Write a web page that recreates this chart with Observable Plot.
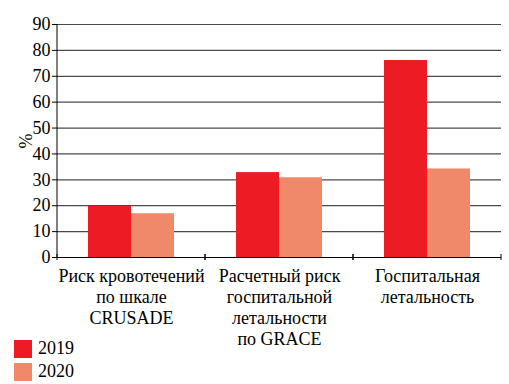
<!DOCTYPE html>
<html><head><meta charset="utf-8">
<script src="https://cdn.jsdelivr.net/npm/d3@7"></script>
<script src="https://cdn.jsdelivr.net/npm/@observablehq/plot@0.6"></script>
<style>
body{margin:0;background:#fff;font-family:"Liberation Serif",serif;}
#wrap{position:relative;width:509px;height:384px;overflow:hidden;}
.legend{position:absolute;left:14px;top:337px;font-size:18px;color:#000;}
.item{display:flex;align-items:center;height:23px;}
.sw{width:18px;height:18px;margin-right:6px;}
</style></head><body><div id="wrap"></div>
<script>
const categories = ["Риск кровотечений\nпо шкале\nCRUSADE", "Расчетный риск\nгоспитальной\nлетальности\nпо GRACE", "Госпитальная\nлетальность"];
const years = ["2019", "2020"];
const values2019 = [19.7, 32.8, 76.1];
const values2020 = [16.9, 30.8, 34.2];
const yTicks = [0, 10, 20, 30, 40, 50, 60, 70, 80, 90];
const colors = ["#ED1C24", "#F0886A"];

const rows = [];
categories.forEach((c, i) => {
  rows.push({category: c, year: years[0], value: values2019[i]});
  rows.push({category: c, year: years[1], value: values2020[i]});
});

const edgeTicks = Plot.ruleY([0], {
  render: (index, scales, values, dim) => {
    const y0 = scales.y(0);
    const g = d3.create("svg:g").attr("stroke", "#000").attr("stroke-width", 1);
    for (const x of [dim.marginLeft, dim.width - dim.marginRight]) {
      g.append("line").attr("x1", x).attr("x2", x).attr("y1", y0 - 3).attr("y2", y0 + 3);
    }
    return g.node();
  }
});

const yAxisLine = Plot.ruleY([categories[0]], {
  fx: d => d, y: () => 0,
  render: (index, scales, values, dim) => {
    const g = d3.create("svg:g").attr("stroke", "#000").attr("stroke-width", 1);
    g.append("line").attr("x1", dim.marginLeft).attr("x2", dim.marginLeft)
      .attr("y1", scales.y(0)).attr("y2", scales.y(yTicks[yTicks.length - 1]));
    return g.node();
  }
});

const chart = Plot.plot({
  width: 509,
  height: 355,
  marginTop: 24,
  marginLeft: 57,
  marginRight: 8,
  marginBottom: 98,
  style: {fontFamily: "Liberation Serif", fontSize: "18px", color: "#000", background: "#fff"},
  fx: {domain: categories, padding: 0, label: null},
  x: {domain: years, paddingInner: 0, paddingOuter: 0.72, axis: null},
  y: {domain: [0, 90], label: null},
  color: {domain: years, range: colors},
  marks: [
    Plot.gridY(yTicks.slice(1), {stroke: "#4a4a4a", strokeOpacity: 1, strokeWidth: 1.2}),
    Plot.barY(rows, {fx: "category", x: "year", y: "value", fill: "year"}),
    Plot.ruleY([0], {stroke: "#000"}),
    edgeTicks,
    yAxisLine,
    Plot.axisY(yTicks, {tickSize: 5, tickPadding: 2, label: "%", labelAnchor: "center", labelOffset: 38, labelArrow: "none", fontSize: 18}),
    Plot.axisFx({anchor: "bottom", tickSize: 0, tickPadding: 9, lineHeight: 1.18, label: null, fontSize: 18})
  ]
});

const wrap = document.getElementById("wrap");
wrap.appendChild(chart);
const legend = document.createElement("div");
legend.className = "legend";
years.forEach((y, i) => {
  const it = document.createElement("div");
  it.className = "item";
  const sw = document.createElement("div");
  sw.className = "sw";
  sw.style.background = colors[i];
  const t = document.createElement("span");
  t.textContent = y;
  it.appendChild(sw); it.appendChild(t);
  legend.appendChild(it);
});
wrap.appendChild(legend);
</script></body></html>
